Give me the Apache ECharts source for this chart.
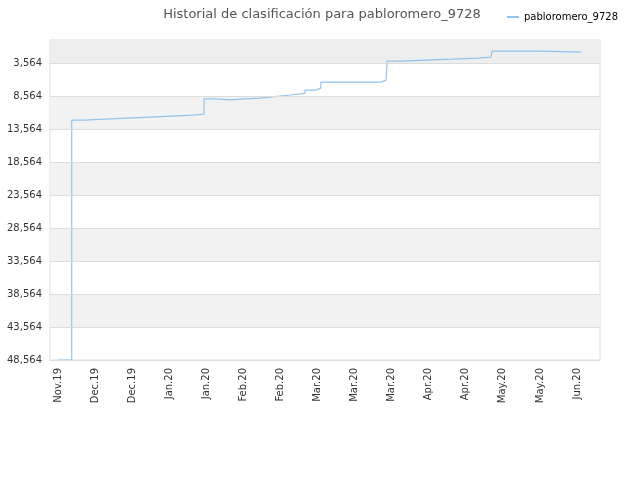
<!DOCTYPE html>
<html><head><meta charset="utf-8">
<script src="https://cdn.jsdelivr.net/npm/echarts@6/dist/echarts.min.js"></script>
<style>html,body{margin:0;padding:0}#c{width:640px;height:480px}</style>
</head><body><div id="c"></div>
<script>
var tickLabels = ['Nov.19','Dec.19','Dec.19','Jan.20','Jan.20','Feb.20','Feb.20','Mar.20','Mar.20','Mar.20','Apr.20','Apr.20','May.20','May.20','Jun.20'];
var yTicks = [3564, 8564, 13564, 18564, 23564, 28564, 33564, 38564, 43564, 48564];
// x in tick units (0 = first label), y = ranking
var xs = [0, 0.37, 0.70, 1.27, 1.86, 2.48, 3.08, 3.64, 3.94, 4.24, 4.64, 5.04, 5.45, 5.85, 6.26, 6.66, 6.96, 7.09, 8.71, 8.85, 8.88, 9.23, 9.93, 10.63, 11.33, 11.68, 11.71, 12.95, 14.11];
var ranks = [48564, 12200, 12050, 11900, 11750, 11600, 11450, 11300, 9000, 9150, 9000, 8860, 8640, 8400, 8150, 7650, 7350, 6440, 6140, 5990, 3260, 3110, 2960, 2800, 2650, 2500, 1740, 1900, 1900];

var yMin = 64;
var data = xs.map(function (x, i) { return [x, ranks[i]]; });
var bandEdges = [yMin].concat(yTicks);
var bands = [];
for (var i = 0; i < bandEdges.length - 1; i++) {
    if (i % 2 === 0) {
        bands.push([{yAxis: bandEdges[i], itemStyle: {color: i === 0 ? '#eeeeee' : '#f2f2f2'}}, {yAxis: bandEdges[i + 1]}]);
    }
}
var chart = echarts.init(document.getElementById('c'));
chart.setOption({
    title: {
        text: 'Historial de clasificación para pabloromero_9728',
        left: 317, top: 3, textAlign: 'center',
        textStyle: {fontSize: 13, fontWeight: 'normal', color: '#555', fontFamily: 'DejaVu Sans'}
    },
    legend: {
        right: 17, top: 7, itemWidth: 12, itemHeight: 2, icon: 'rect',
        textStyle: {fontSize: 10, color: '#000', fontFamily: 'DejaVu Sans'},
        data: ['pabloromero_9728']
    },
    grid: {left: 50, right: 40, top: 40, bottom: 120, show: true, borderColor: '#ddd'},
    xAxis: {
        type: 'value', min: -0.216, max: 14.62,
        splitLine: {show: false},
        axisLine: {lineStyle: {color: '#ccc'}},
        axisTick: {show: false},
        axisLabel: {
            customValues: tickLabels.map(function (l, i) { return i; }),
            rotate: 90, fontSize: 10, color: '#333', fontFamily: 'DejaVu Sans',
            formatter: function (v) { return tickLabels[Math.round(v)]; }
        }
    },
    yAxis: {
        type: 'value', inverse: true, min: yMin, max: 48564,
        axisLine: {show: false}, axisTick: {show: false},
        axisLabel: {customValues: yTicks, fontSize: 10, color: '#333', fontFamily: 'DejaVu Sans'},
        splitLine: {show: false}
    },
    series: [{
        name: 'pabloromero_9728', type: 'line', step: 'end',
        data: data, showSymbol: false,
        lineStyle: {color: '#90c4f0', width: 1.2}, itemStyle: {color: '#90c4f0'},
        markArea: {silent: true, data: bands},
        markLine: {silent: true, symbol: 'none', label: {show: false},
            lineStyle: {color: '#ddd', type: 'solid', width: 1},
            data: yTicks.map(function (t) { return {yAxis: t}; })}
    }]
});
</script></body></html>
